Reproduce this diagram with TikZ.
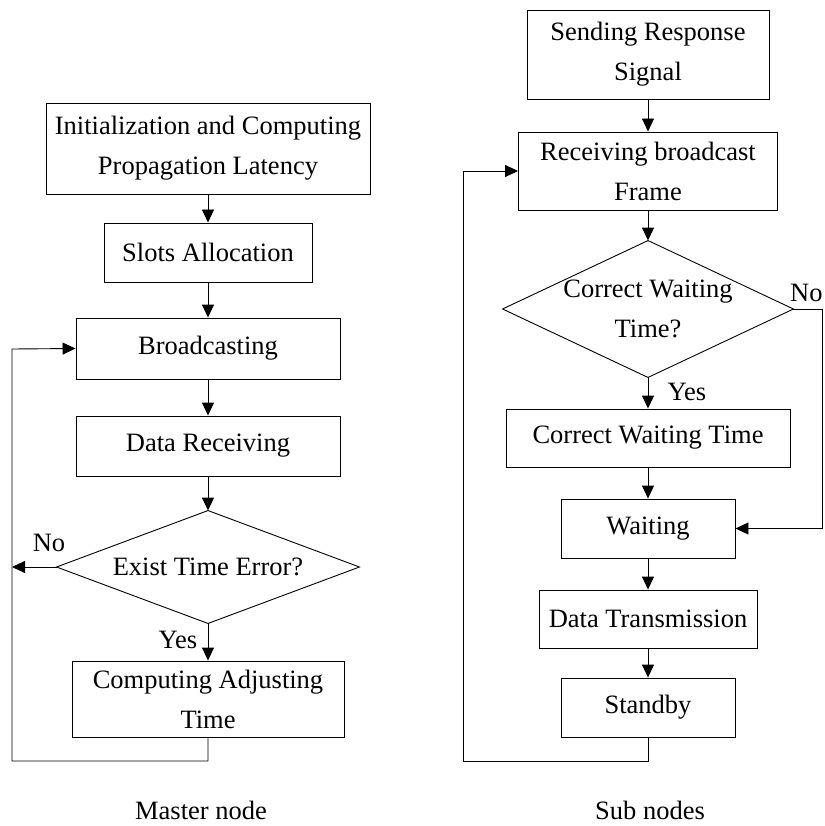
\documentclass[tikz,border=0pt]{standalone}
\usepackage{fontspec}
\setmainfont{Liberation Serif}
\usetikzlibrary{arrows.meta}
\begin{document}
\begin{tikzpicture}[x=1pt,y=-1pt, line width=0.9pt,
  box/.style={draw, rectangle, inner sep=0pt, align=center, font=\fontsize{26.5}{40}\selectfont},
  txt/.style={inner sep=0pt, align=center, font=\fontsize{26.5}{40}\selectfont},
  arr/.style={-{Triangle[length=13pt,width=12pt]}}]
\useasboundingbox (0,0) rectangle (824,826);
% left column
\node[box, minimum width=324pt, minimum height=91pt] (init) at (208,148.5) {Initialization and Computing\\Propagation Latency};
\node[box, minimum width=208pt, minimum height=59pt] (slots) at (208,252.5) {Slots Allocation};
\node[box, minimum width=264pt, minimum height=61pt] (bcast) at (208,348.5) {Broadcasting};
\node[box, minimum width=264pt, minimum height=60pt] (drecv) at (208,446) {Data Receiving};
\node[txt, minimum width=302pt, minimum height=112pt] (d1) at (208,567) {Exist Time Error?};
\draw (d1.north) -- (d1.east) -- (d1.south) -- (d1.west) -- cycle;
\node[box, minimum width=272pt, minimum height=76pt] (comp) at (208,699) {Computing Adjusting\\Time};
\coordinate (noL) at (12,567);
\coordinate (fbL1) at (208,761);
\coordinate (fbL2) at (12,761);
\coordinate (fbL3) at (12,349);
\node[txt] (noa) at (49,543) {No};
\node[txt] (yesa) at (178,640) {Yes};
\node[txt] (cap1) at (201,810) {Master node};
\draw[arr] (init.south) -- (slots.north);
\draw[arr] (slots.south) -- (bcast.north);
\draw[arr] (bcast.south) -- (drecv.north);
\draw[arr] (drecv.south) -- (d1.north);
\draw[arr] (d1.south) -- (comp.north);
\draw[arr] (d1.west) -- (noL);
\draw[arr] (comp.south) -- (fbL1) -- (fbL2) -- (fbL3) -- (bcast.west);
% right column
\node[box, minimum width=242pt, minimum height=89pt] (send) at (648,54.5) {Sending Response\\Signal};
\node[box, minimum width=259pt, minimum height=78pt] (recv) at (648,171) {Receiving broadcast\\Frame};
\node[txt, minimum width=290pt, minimum height=136pt] (d2) at (648,309) {Correct Waiting\\Time?};
\draw (d2.north) -- (d2.east) -- (d2.south) -- (d2.west) -- cycle;
\node[box, minimum width=284pt, minimum height=58pt] (corr) at (648,438) {Correct Waiting Time};
\node[box, minimum width=174pt, minimum height=59pt] (wait) at (648,528.5) {Waiting};
\node[box, minimum width=218pt, minimum height=58pt] (dtx) at (648,619) {Data Transmission};
\node[box, minimum width=174pt, minimum height=59pt] (stby) at (648,707.5) {Standby};
\coordinate (noR1) at (822,309);
\coordinate (noR2) at (822,528.5);
\coordinate (fbR1) at (648,761);
\coordinate (fbR2) at (463,761);
\coordinate (fbR3) at (463,171);
\node[txt, anchor=east] (nob) at (823,293) {No};
\node[txt] (yesb) at (687,392) {Yes};
\node[txt] (cap2) at (650,810) {Sub nodes};
\draw[arr] (send.south) -- (recv.north);
\draw[arr] (recv.south) -- (d2.north);
\draw[arr] (d2.south) -- (corr.north);
\draw[arr] (corr.south) -- (wait.north);
\draw[arr] (wait.south) -- (dtx.north);
\draw[arr] (dtx.south) -- (stby.north);
\draw[arr] (d2.east) -- (noR1) -- (noR2) -- (wait.east);
\draw[arr] (stby.south) -- (fbR1) -- (fbR2) -- (fbR3) -- (recv.west);
\end{tikzpicture}
\end{document}
